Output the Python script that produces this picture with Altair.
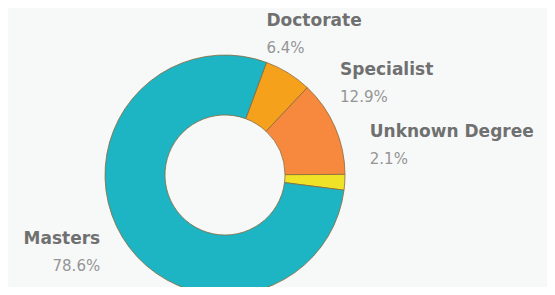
import altair as alt
import pandas as pd

degrees = ["Doctorate", "Specialist", "Unknown Degree", "Masters"]
shares = [6.4, 12.9, 2.1, 78.6]
pct_labels = ["6.4%", "12.9%", "2.1%", "78.6%"]
colors = ["#f6a11c", "#f6893e", "#f0e226", "#1db4c4"]

df = pd.DataFrame({"degree": degrees, "share": shares, "pct": pct_labels,
                   "order": list(range(len(degrees)))})

start = 0.353
theta_scale = alt.Scale(domain=[0, 100], range=[start, start + 6.283185])
cx, cy = 217, 167

arcs = alt.Chart(df).mark_arc(innerRadius=60, outerRadius=120, stroke="#8a6a3a",
                              strokeWidth=0.8).encode(
    theta=alt.Theta("share:Q", stack=True, scale=theta_scale),
    order=alt.Order("order:Q"),
    x=alt.value(cx), y=alt.value(cy),
    color=alt.Color("degree:N", scale=alt.Scale(domain=degrees, range=colors),
                    legend=None),
)

lbase = alt.Chart(df).transform_window(
    cum="sum(share)", sort=[alt.SortField("order")]
).transform_calculate(
    mid="datum.cum - datum.share / 2"
).encode(
    theta=alt.Theta("mid:Q", stack=None, scale=theta_scale),
    x=alt.value(cx), y=alt.value(cy),
)

font = "DejaVu Sans"

def labels(filter_expr, align, theta_off, r):
    b = lbase.transform_filter(filter_expr)
    name = b.mark_text(align=align, baseline="middle", radius=r, thetaOffset=theta_off,
                       dy=-12, font=font, fontSize=17, fontWeight="bold",
                       color="#707070").encode(text="degree:N")
    pct = b.mark_text(align=align, baseline="middle", radius=r, thetaOffset=theta_off,
                      dy=15, font=font, fontSize=15, color="#959595").encode(text="pct:N")
    return name + pct

right_labels = labels("datum.degree != 'Masters'", "left", -0.27, 148)
left_labels = labels("datum.degree == 'Masters'", "right", 0.0, 146)

chart = alt.layer(arcs, right_labels, left_labels).properties(
    width=539, height=279,
    autosize=alt.AutoSizeParams(type="none"),
    padding=0,
    background="#f7f9f9",
).configure_view(stroke=None)

chart.save("out.html", embed_options={"renderer": "svg", "actions": False})
